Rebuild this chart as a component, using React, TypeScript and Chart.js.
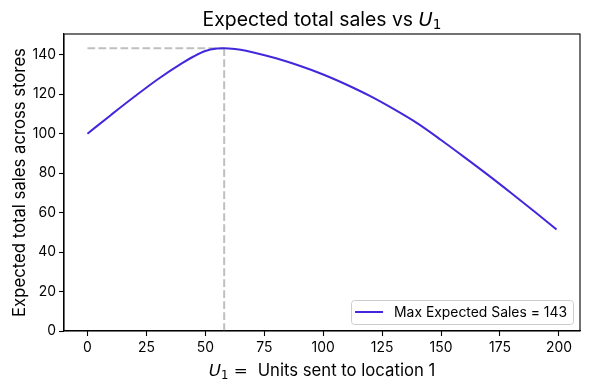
import { useEffect, useRef } from 'react';
import { Chart, registerables } from 'chart.js';

Chart.register(...registerables);

const unitsSent = [0, 10, 20, 30, 40, 45, 50, 55, 58, 60, 65, 70, 80, 90, 100, 110, 120, 130, 140, 150, 160, 170, 180, 190, 199];
const expectedSales = [100, 109.5, 118.8, 127.7, 135.6, 139.1, 141.9, 143.1, 143.3, 143.2, 142.5, 141.3, 138.2, 134.4, 130.0, 124.8, 119.0, 112.4, 105.2, 96.8, 88.0, 79.0, 69.7, 60.2, 51.4];
const xTickValues = [0, 25, 50, 75, 100, 125, 150, 175, 200];
const yTickValues = [0, 20, 40, 60, 80, 100, 120, 140];
const bestUnits = 58;
const maxSales = 143.3;
const legendLabel = 'Max Expected Sales = 143';
const titleText = 'Expected total sales vs ';
const xLabelText = 'Units sent to location 1';
const yLabelText = 'Expected total sales across stores';

const LINE_COLOR = '#4228dc';
const DASH_COLOR = 'rgba(128,128,128,0.5)';
const FONT = 'Inter';
const MATH = '"DejaVu Sans"';

type Part = { t: string; f: string; dy?: number };

function drawParts(ctx: CanvasRenderingContext2D, parts: Part[], cx: number, y: number) {
  let total = 0;
  for (const p of parts) {
    ctx.font = p.f;
    total += ctx.measureText(p.t).width;
  }
  let x = cx - total / 2;
  ctx.textAlign = 'left';
  ctx.textBaseline = 'alphabetic';
  for (const p of parts) {
    ctx.font = p.f;
    ctx.fillText(p.t, x, y + (p.dy || 0));
    x += ctx.measureText(p.t).width;
  }
}

const decorPlugin = {
  id: 'decor',
  afterDraw(chart: any) {
    const ctx: CanvasRenderingContext2D = chart.ctx;
    const a = chart.chartArea;
    ctx.save();
    ctx.strokeStyle = '#000';
    ctx.lineWidth = 1.1;
    ctx.strokeRect(a.left, a.top, a.right - a.left, a.bottom - a.top);
    ctx.fillStyle = '#000';
    const cx = (a.left + a.right) / 2;
    drawParts(
      ctx,
      [
        { t: titleText, f: `19.4px ${FONT}` },
        { t: 'U', f: `italic 19.4px ${MATH}` },
        { t: '1', f: `13.6px ${MATH}`, dy: 3 },
      ],
      cx,
      26
    );
    drawParts(
      ctx,
      [
        { t: 'U', f: `italic 16.7px ${MATH}` },
        { t: '1', f: `11.7px ${MATH}`, dy: 2.5 },
        { t: ' = ', f: `16.7px ${MATH}` },
        { t: ' ' + xLabelText, f: `16.7px ${FONT}` },
      ],
      cx,
      376
    );
    ctx.save();
    ctx.translate(25, (a.top + a.bottom) / 2);
    ctx.rotate(-Math.PI / 2);
    ctx.font = `16.7px ${FONT}`;
    ctx.textAlign = 'center';
    ctx.textBaseline = 'alphabetic';
    ctx.fillText(yLabelText, 0, 0);
    ctx.restore();
    const label = chart.data.datasets[0].label;
    ctx.font = `13.9px ${FONT}`;
    const tw = ctx.measureText(label).width;
    const boxRight = a.right - 7;
    const boxBottom = a.bottom - 7;
    const boxTop = boxBottom - 24;
    const textRight = boxRight - 6;
    const textLeft = textRight - tw;
    const handleRight = textLeft - 11;
    const handleLeft = handleRight - 28;
    const boxLeft = handleLeft - 4;
    ctx.beginPath();
    (ctx as any).roundRect(boxLeft + 0.5, boxTop + 0.5, boxRight - boxLeft, boxBottom - boxTop, 3);
    ctx.fillStyle = 'rgba(255,255,255,0.8)';
    ctx.fill();
    ctx.strokeStyle = '#cccccc';
    ctx.lineWidth = 1;
    ctx.stroke();
    const midY = (boxTop + boxBottom) / 2;
    ctx.beginPath();
    ctx.moveTo(handleLeft, midY);
    ctx.lineTo(handleRight, midY);
    ctx.strokeStyle = LINE_COLOR;
    ctx.lineWidth = 2;
    ctx.stroke();
    ctx.fillStyle = '#000';
    ctx.textAlign = 'left';
    ctx.textBaseline = 'middle';
    ctx.fillText(label, textLeft, midY + 1);
    ctx.restore();
  },
};

export default function App() {
  const ref = useRef<HTMLCanvasElement | null>(null);
  useEffect(() => {
    document.body.style.margin = '0';
    const canvas = ref.current;
    if (!canvas) return;
    const mainPoints = unitsSent.map((x, i) => ({ x, y: expectedSales[i] }));
    const chart = new Chart(canvas, {
      type: 'line',
      data: {
        datasets: [
          {
            label: legendLabel,
            data: mainPoints,
            borderColor: LINE_COLOR,
            borderWidth: 2,
            pointRadius: 0,
            cubicInterpolationMode: 'monotone',
            order: 0,
          },
          {
            label: 'h',
            data: [
              { x: 0, y: maxSales },
              { x: bestUnits, y: maxSales },
            ],
            borderColor: DASH_COLOR,
            borderWidth: 2,
            borderDash: [7.7, 3.3],
            pointRadius: 0,
            order: 1,
          },
          {
            label: 'v',
            data: [
              { x: bestUnits, y: 0 },
              { x: bestUnits, y: maxSales },
            ],
            borderColor: DASH_COLOR,
            borderWidth: 2,
            borderDash: [7.7, 3.3],
            pointRadius: 0,
            order: 1,
          },
        ],
      },
      options: {
        responsive: false,
        animation: false,
        layout: { padding: { top: 34, right: 10, left: 0, bottom: 0 } },
        plugins: {
          legend: { display: false },
          title: { display: false },
          tooltip: { enabled: false },
        },
        scales: {
          x: {
            type: 'linear',
            min: -9.95,
            max: 208.95,
            afterBuildTicks: (s: any) => {
              s.ticks = xTickValues.map((v) => ({ value: v }));
            },
            afterFit: (s: any) => {
              s.height = 59;
            },
            grid: { drawOnChartArea: false, drawTicks: true, tickLength: 5, tickColor: '#000', tickWidth: 1.1 },
            border: { display: true, color: '#000', width: 1.1 },
            ticks: { color: '#000', font: { family: FONT, size: 13.9 }, padding: 3, maxRotation: 0, autoSkip: false },
          },
          y: {
            type: 'linear',
            min: 0,
            max: 150.5,
            afterBuildTicks: (s: any) => {
              s.ticks = yTickValues.map((v) => ({ value: v }));
            },
            afterFit: (s: any) => {
              s.width = 64;
            },
            grid: { drawOnChartArea: false, drawTicks: true, tickLength: 5, tickColor: '#000', tickWidth: 1.1 },
            border: { display: true, color: '#000', width: 1.1 },
            ticks: { color: '#000', font: { family: FONT, size: 13.9 }, padding: 3, autoSkip: false },
          },
        },
      },
      plugins: [decorPlugin],
    });
    return () => chart.destroy();
  }, []);
  return (
    <div style={{ width: 590, height: 390, background: '#fff' }}>
      <canvas ref={ref} width={590} height={390} />
    </div>
  );
}
